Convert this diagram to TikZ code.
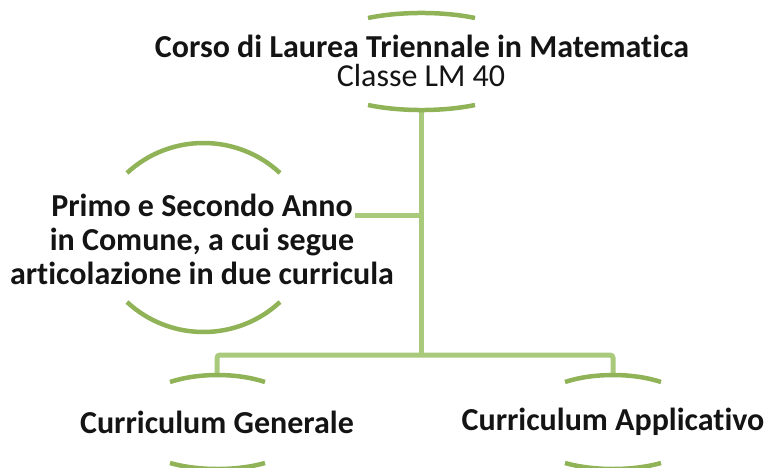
\documentclass[tikz,border=0pt]{standalone}
\usepackage{fontspec}
\setmainfont{Carlito}[Ligatures={NoCommon,NoContextual}]
\definecolor{arcgreen}{HTML}{8FB356}
\definecolor{linegreen}{HTML}{A9C97B}
\begin{document}
\begin{tikzpicture}[x=1pt,y=-1pt,
  arcline/.style={draw=arcgreen,line width=4.5pt,line cap=butt},
  conn/.style={draw=linegreen,line width=5pt,rounded corners=3pt},
  lbl/.style={align=center,inner sep=0pt,text=black!92,font=\fontsize{32}{34}\selectfont\bfseries}]
\useasboundingbox (0,0) rectangle (768,468);
% connectors
\coordinate (trunkTop) at (421,110);
\coordinate (hub) at (421,355);
\coordinate (branch) at (421,215);
\coordinate (leftEnd) at (355,215);
\coordinate (genTop) at (217,376);
\coordinate (appTop) at (613,376);
\draw[conn] (trunkTop) -- (hub);
\draw[conn] (branch) -- (leftEnd);
\draw[conn] (genTop) |- (hub) -| (appTop);
% arcs: top node
\draw[arcline] (368,18) .. controls (400,11.3) and (443,11.3) .. (475,18);
\draw[arcline] (368,105) .. controls (400,111.7) and (443,111.7) .. (475,105);
% arcs: left node
\draw[arcline] (127,173) .. controls (170,133) and (237,133) .. (280,173);
\draw[arcline] (127,302) .. controls (170,342) and (237,342) .. (280,302);
% arcs: curriculum generale
\draw[arcline] (170,382) .. controls (198,372.7) and (237,372.7) .. (265,382);
\draw[arcline] (170,463) .. controls (198,471) and (237,471) .. (265,463);
% arcs: curriculum applicativo
\draw[arcline] (565,382) .. controls (593,372.7) and (633,372.7) .. (661,382);
\draw[arcline] (565,463) .. controls (593,471) and (633,471) .. (661,463);
% texts
\node[lbl] (top) at (422,46) {Corso di Laurea Triennale in Matematica};
\node[lbl,font=\fontsize{32}{34}\selectfont] (cls) at (421,76) {Classe LM 40};
\node[lbl] (left) at (202,239) {Primo e Secondo Anno\\in Comune, a cui segue\\articolazione in due curricula};
\node[lbl] (gen) at (217,422) {Curriculum Generale};
\node[lbl] (app) at (613,422) {Curriculum Applicativo};
\end{tikzpicture}
\end{document}
